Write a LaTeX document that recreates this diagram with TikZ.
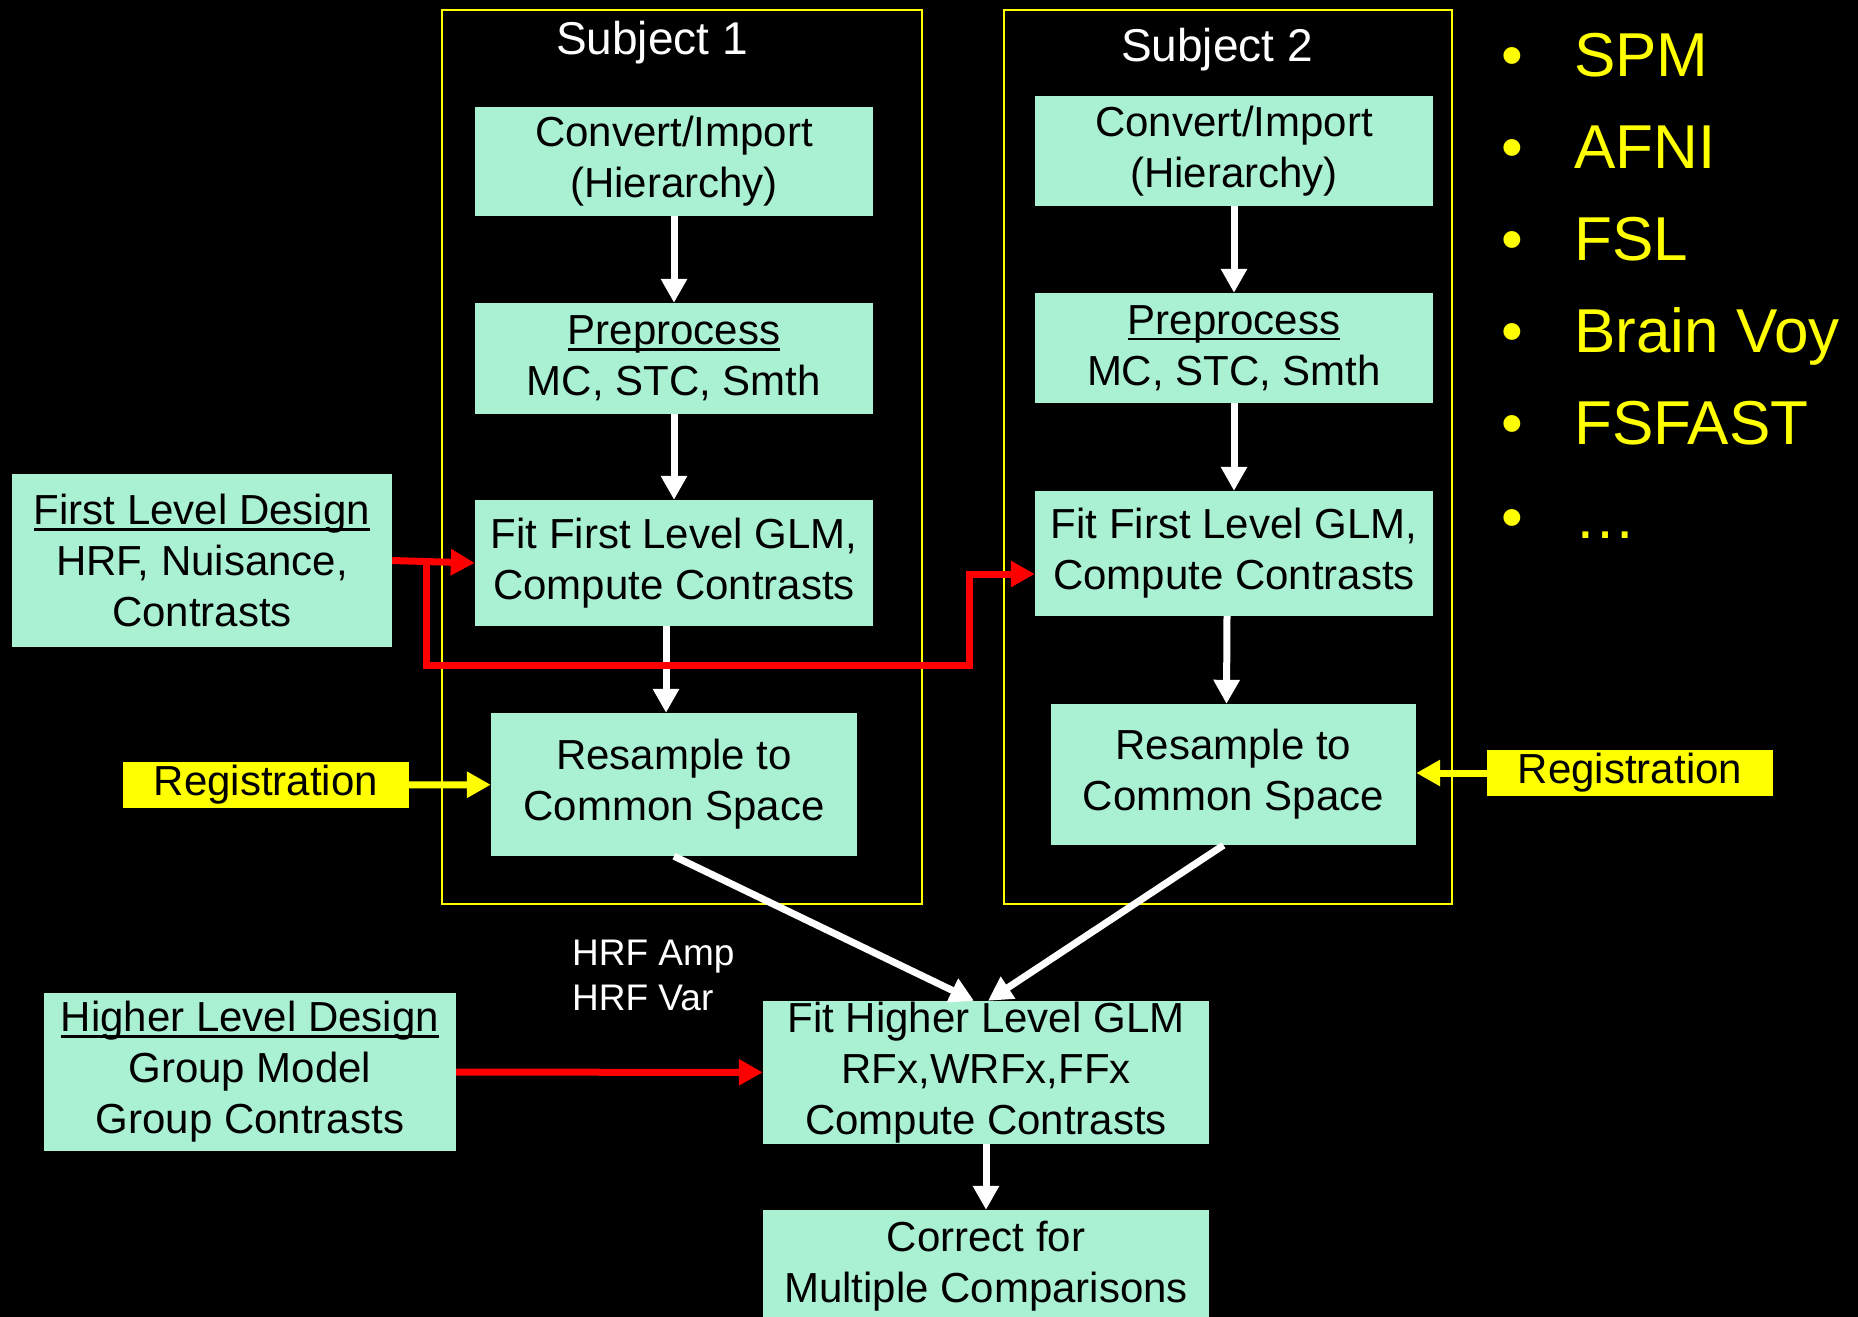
\documentclass[tikz,border=0pt]{standalone}
\usepackage{fontspec}
\setmainfont{Liberation Sans}
\usetikzlibrary{arrows.meta,calc}
\definecolor{mint}{RGB}{170,240,210}
\definecolor{ylw}{RGB}{255,255,0}
\newcommand{\myul}[1]{\setbox0\hbox{#1}\rlap{\rule[-6pt]{\wd0}{2.5pt}}\box0}
\begin{document}
\begin{tikzpicture}[x=1pt,y=-1pt,
  box/.style={fill=mint, inner sep=0pt, align=center, text=black, font=\fontsize{42}{51}\selectfont},
  regbox/.style={fill=ylw, inner sep=0pt, align=center, text=black, font=\fontsize{42}{51}\selectfont},
  frame/.style={draw=ylw, line width=2pt, inner sep=0pt},
  title/.style={text=white, inner sep=0pt, font=\fontsize{46}{55}\selectfont},
  lst/.style={text=ylw, inner sep=0pt, font=\fontsize{62}{70}\selectfont},
  note/.style={text=white, inner sep=0pt, font=\fontsize{37}{45}\selectfont},
  warrow/.style={draw=white, line width=7pt, -{Triangle[length=24pt,width=25pt]}},
  rarrow/.style={draw=red, line width=7pt, -{Triangle[length=24pt,width=25pt]}},
  yarrow/.style={draw=ylw, line width=7pt, -{Triangle[length=24pt,width=25pt]}}]
\useasboundingbox (0,0) rectangle (1858,1317);
\clip (0,0) rectangle (1858,1317);
\fill[black] (0,0) rectangle (1858,1317);

% subject frames
\node[frame, minimum width=480pt, minimum height=894.5pt] (s1) at (682,456.75) {};
\node[frame, minimum width=448pt, minimum height=894.5pt] (s2) at (1228,456.75) {};
\node[title, anchor=base] (t1) at (652,54) {Subject 1};
\node[title, anchor=base] (t2) at (1217,61) {Subject 2};

% subject 1 boxes
\node[box, minimum width=398pt, minimum height=109pt] (c1) at (674,161.5) {Convert/Import\\(Hierarchy)};
\node[box, minimum width=398pt, minimum height=111pt] (p1) at (674,358.5) {\myul{Preprocess}\\MC, STC, Smth};
\node[box, minimum width=398pt, minimum height=126pt] (f1) at (674,563) {Fit First Level GLM,\\Compute Contrasts};
\node[box, minimum width=366pt, minimum height=143pt] (r1) at (674,784.5) {Resample to\\Common Space};

% subject 2 boxes
\node[box, minimum width=398pt, minimum height=110pt] (c2) at (1234,151) {Convert/Import\\(Hierarchy)};
\node[box, minimum width=398pt, minimum height=110pt] (p2) at (1234,348) {\myul{Preprocess}\\MC, STC, Smth};
\node[box, minimum width=398pt, minimum height=125pt] (f2) at (1234,553.5) {Fit First Level GLM,\\Compute Contrasts};
\node[box, minimum width=365pt, minimum height=141pt] (r2) at (1233.5,774.5) {Resample to\\Common Space};

% side boxes
\node[box, minimum width=380pt, minimum height=173pt] (fld) at (202,560.5) {\myul{First Level Design}\\HRF, Nuisance,\\Contrasts};
\node[regbox, minimum width=286pt, minimum height=46pt] (regL) at (266,785) {Registration};
\node[regbox, minimum width=286pt, minimum height=46pt] (regR) at (1630,773) {Registration};
\node[box, minimum width=412pt, minimum height=158pt] (hld) at (250,1072) {\myul{Higher Level Design}\\Group Model\\Group Contrasts};
\node[box, minimum width=446pt, minimum height=143pt] (fh) at (986,1072.5) {Fit Higher Level GLM\\RFx,WRFx,FFx\\Compute Contrasts};
\node[box, minimum width=446pt, minimum height=112pt] (cm) at (986,1266) {Correct for\\Multiple Comparisons};

% notes
\node[note, anchor=base west] (n1) at (572,965) {HRF Amp};
\node[note, anchor=base west] (n2) at (572,1010) {HRF Var};

% bullet list
\foreach \i/\yy/\txt in {1/76.5/SPM, 2/168/AFNI, 3/260/FSL, 4/352/Brain Voy, 5/444/FSFAST, 6/538/…}{
  \node[lst, anchor=base] (b\i) at (1512,\yy) {•};
  \node[lst, anchor=base west] (l\i) at (1574,\yy) {\txt};
}

% white arrows
\draw[warrow] (c1) -- (p1);
\draw[warrow] (p1) -- (f1);
\draw[warrow] ([xshift=-8pt]f1.south) -- ([xshift=-8pt]r1.north);
\draw[warrow] (c2) -- (p2);
\draw[warrow] (p2) -- (f2);
\draw[warrow] ([xshift=-7pt]f2.south) -- ([xshift=-7pt]r2.north);
\draw[warrow] (r1.south) -- ([xshift=-12pt]fh.north);
\draw[warrow] ([xshift=-10pt]r2.south) -- ([xshift=2pt]fh.north);
\draw[warrow] (fh) -- (cm);

% red arrows
\draw[rarrow] (fld.east) -- (f1.west);
\coordinate (br) at (426,561);
\coordinate (f2in) at ($(f2.west)+(0,20.5)$);
\draw[rarrow] (br) -- (426,665) -- (969,665) -- (969,574) -- (f2in);
\draw[rarrow] (hld) -- (fh);

% yellow arrows
\draw[yarrow] (regL) -- (r1);
\draw[yarrow] (regR.west) -- (regR.west -| r2.east);
\end{tikzpicture}
\end{document}
